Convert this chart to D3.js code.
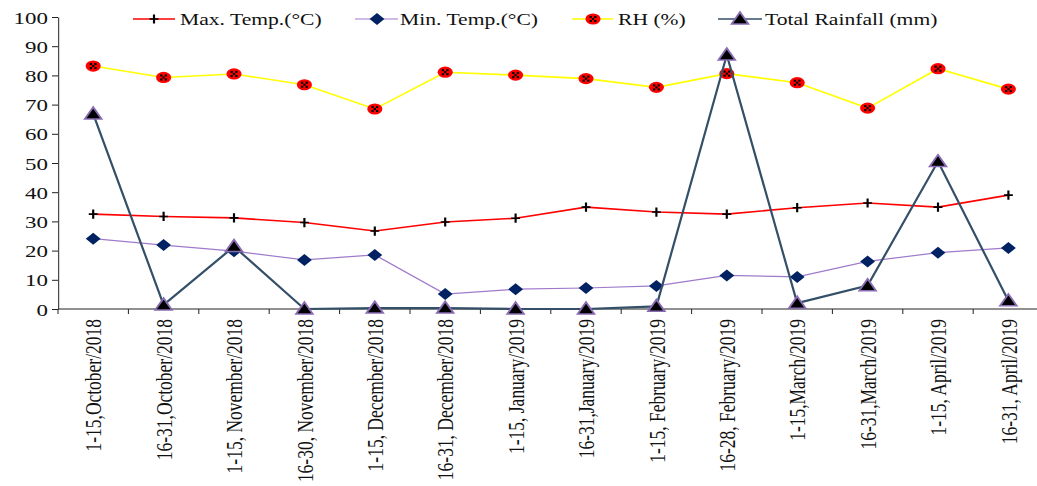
<!DOCTYPE html>
<html>
<head>
<meta charset="utf-8">
<script src="https://cdn.jsdelivr.net/npm/d3@7"></script>
<style>
	html, body { margin: 0; padding: 0; background: #fff; }
	#chart text { font-family: "Liberation Serif", "Times New Roman", serif; fill: #111; }
</style>
</head>
<body>
<div id="chart"></div>
<script>
'use strict';

var categories = [
	"1-15,October/2018", "16-31,October/2018", "1-15, November/2018", "16-30, November/2018",
	"1-15, December/2018", "16-31, December/2018", "1-15, January/2019", "16-31,January/2019",
	"1-15, February/2019", "16-28, February/2019", "1-15,March/2019", "16-31,March/2019",
	"1-15, April/2019", "16-31, April/2019"
];
var maxTemp = [32.5, 31.7, 31.2, 29.6, 26.7, 29.8, 31.1, 34.9, 33.2, 32.5, 34.7, 36.3, 34.9, 39.0];
var minTemp = [24.1, 21.9, 19.8, 16.8, 18.5, 5.1, 6.8, 7.2, 7.9, 11.5, 11.0, 16.3, 19.3, 20.9];
var rh = [83.2, 79.3, 80.5, 76.8, 68.5, 81.1, 80.1, 78.9, 75.9, 80.6, 77.5, 68.8, 82.3, 75.3];
var rainfall = [66.8, 1.4, 21.4, 0, 0.3, 0.3, 0, 0, 0.9, 87.0, 2.0, 8.0, 50.5, 2.8];
var yTicks = [0, 10, 20, 30, 40, 50, 60, 70, 80, 90, 100];

var seriesNames = ["Max. Temp.(\u00B0C)", "Min. Temp.(\u00B0C)", "RH (%)", "Total Rainfall (mm)"];

// the source figure is stretched sideways, so everything is drawn in a
// narrower box and the svg widens it again
var W = 1037, H = 486, sx = 1.35;
var iw = W / sx;
function X(px) { return px / sx; }

var svg = d3.select("#chart").append("svg")
	.attr("width", W)
	.attr("height", H)
	.attr("viewBox", "0 0 " + iw + " " + H)
	.attr("preserveAspectRatio", "none");

var x = d3.scaleBand().domain(categories).range([X(58), X(1043.6)]);
var y = d3.scaleLinear().domain([0, 100]).range([309, 17]);
var cx = function (d, i) { return x(categories[i]) + x.bandwidth() / 2; };

var markers = {
	cross: function (g) {
		g.append("path").attr("d", "M-3.3,0H3.3M0,-4.6V4.6")
			.attr("stroke", "#000").attr("stroke-width", 1.6).attr("fill", "none");
	},
	diamond: function (g) {
		g.append("path").attr("d", "M0,-6L5.5,0L0,6L-5.5,0Z").attr("fill", "#002263");
	},
	checker: function (g) {
		g.append("circle").attr("r", 5.6).attr("fill", "#ff0000");
		var c = 1.7;
		[[0, 0], [2, 0], [1, 1], [0, 2], [2, 2]].forEach(function (p) {
			g.append("rect")
				.attr("x", -1.5 * c + p[0] * c).attr("y", -1.5 * c * 1.2 + p[1] * c * 1.2)
				.attr("width", c).attr("height", c * 1.2)
				.attr("fill", "#000");
		});
	},
	triangle: function (g) {
		g.append("path").attr("d", "M0,-6.8L6.2,5L-6.2,5Z")
			.attr("fill", "#000").attr("stroke", "#8a6cb3").attr("stroke-width", 1.5);
	}
};

var series = [
	{ name: seriesNames[0], values: maxTemp, color: "#ff0000", width: 1.6, marker: "cross" },
	{ name: seriesNames[1], values: minTemp, color: "#9f7acb", width: 1.2, marker: "diamond" },
	{ name: seriesNames[2], values: rh, color: "#ffff00", width: 1.6, marker: "checker" },
	{ name: seriesNames[3], values: rainfall, color: "#344f68", width: 2.2, marker: "triangle" }
];

/*-- Axes --*/

var yAxis = svg.append("g")
	.attr("transform", "translate(" + X(58) + ",0)")
	.call(d3.axisLeft(y).tickValues(yTicks).tickSize(X(6)).tickPadding(X(4)).tickSizeOuter(0));
yAxis.attr("font-family", null);
yAxis.selectAll("text").style("font-size", "17px").attr("dy", "0.36em");

var xAxis = svg.append("g").attr("transform", "translate(0,309)");
xAxis.append("line")
	.attr("x1", X(58)).attr("x2", iw)
	.attr("stroke", "#222");
xAxis.selectAll(".tick").data(categories).enter().append("line")
	.attr("class", "tick")
	.attr("x1", function (d) { return x(d); })
	.attr("x2", function (d) { return x(d); })
	.attr("y1", 0).attr("y2", 5)
	.attr("stroke", "#222");
xAxis.selectAll(".lbl").data(categories).enter().append("text")
	.attr("class", "lbl")
	.attr("transform", function (d) {
		return "translate(" + (x(d) + x.bandwidth() / 2) + ",10) rotate(-90)";
	})
	.attr("text-anchor", "end")
	.attr("dy", "0.35em")
	.style("font-size", "17.5px")
	.text(function (d) { return d; });

svg.selectAll(".domain, .tick line").attr("stroke", "#222");
svg.selectAll("line, path.domain").attr("vector-effect", "non-scaling-stroke");

/*-- Series --*/

var line = d3.line().x(cx).y(function (d) { return y(d); });

series.forEach(function (s) {
	var g = svg.append("g");
	g.append("path")
		.datum(s.values)
		.attr("d", line)
		.attr("fill", "none")
		.attr("stroke", s.color)
		.attr("stroke-width", s.width)
		.attr("vector-effect", "non-scaling-stroke");
	g.selectAll(".mk").data(s.values).enter().append("g")
		.attr("class", "mk")
		.attr("transform", function (d, i) { return "translate(" + cx(d, i) + "," + y(d) + ")"; })
		.each(function () { markers[s.marker](d3.select(this)); });
});

/*-- Legend --*/

var legendPos = [
	{ l: 133, r: 175, m: 154, t: 180 },
	{ l: 355, r: 398, m: 377, t: 400 },
	{ l: 572, r: 613, m: 593, t: 618 },
	{ l: 718, r: 762, m: 740, t: 765 }
];

var legend = svg.append("g");
series.forEach(function (s, i) {
	var p = legendPos[i];
	legend.append("line")
		.attr("x1", X(p.l)).attr("x2", X(p.r))
		.attr("y1", 19).attr("y2", 19)
		.attr("stroke", s.color)
		.attr("stroke-width", Math.min(s.width, 1.6))
		.attr("vector-effect", "non-scaling-stroke");
	var m = legend.append("g").attr("transform", "translate(" + X(p.m) + ",19)");
	markers[s.marker](m);
	legend.append("text")
		.attr("x", X(p.t)).attr("y", 19)
		.attr("dy", "0.35em")
		.style("font-size", "16px")
		.text(s.name);
});
</script>
</body>
</html>
